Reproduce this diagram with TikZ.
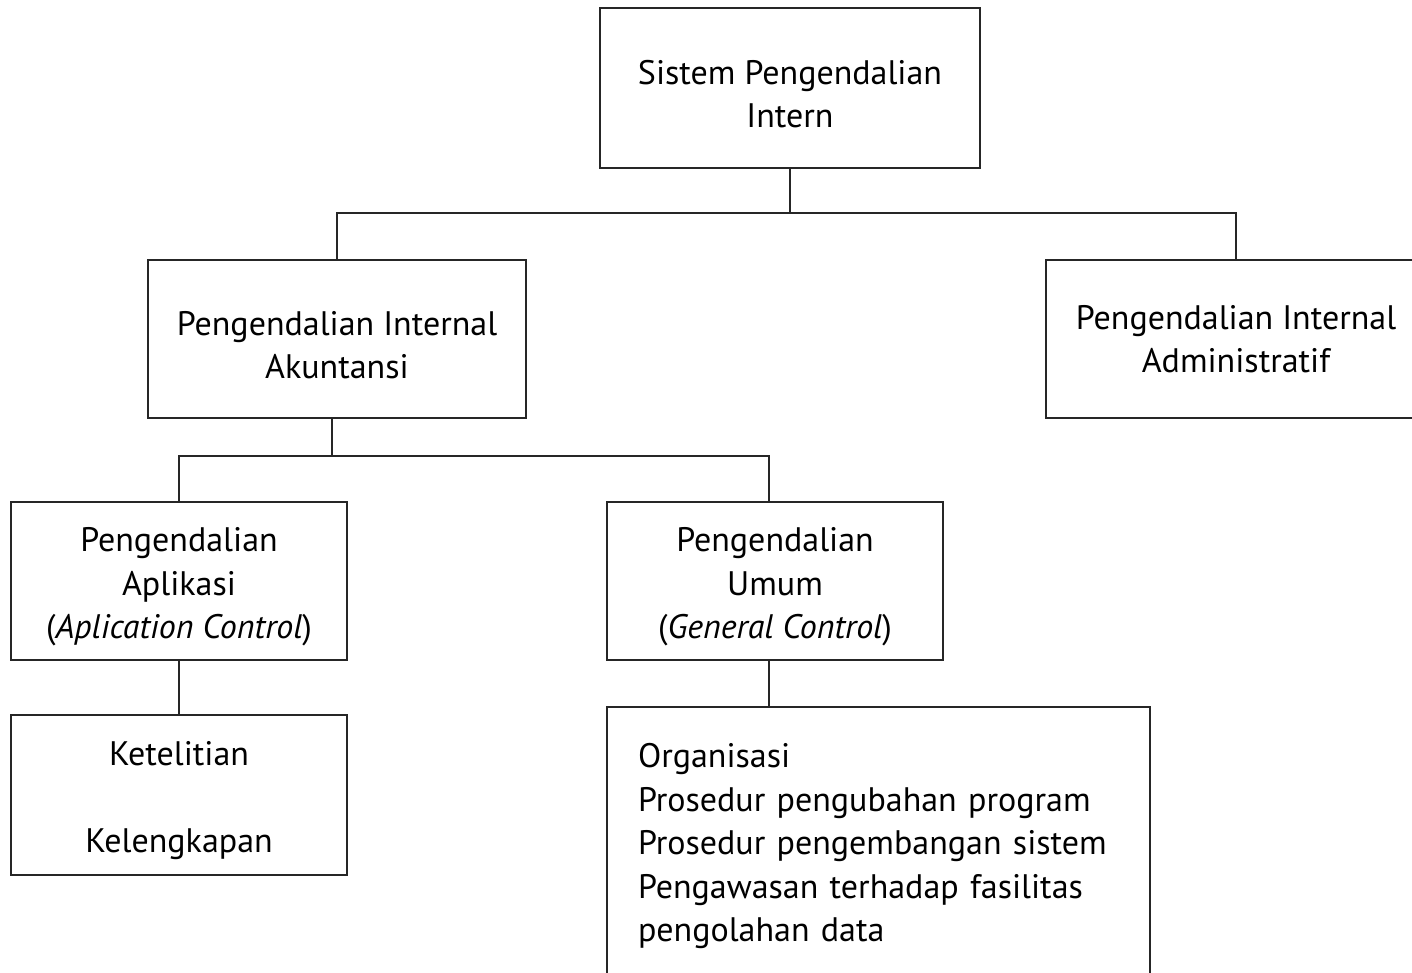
\documentclass[tikz,border=0pt]{standalone}
\usepackage{fontspec}
\setmainfont{PT Sans}
\usetikzlibrary{calc}
\newcommand\lowstrut{\rule{0pt}{36pt}}
\begin{document}
\begin{tikzpicture}[x=1pt,y=-1pt,
  box/.style={draw=black!85, line width=1.6pt, rectangle, outer sep=0pt, inner sep=0pt,
    align=center, font=\fontsize{34}{43.5}\selectfont},
  conn/.style={draw=black!85, line width=1.6pt}]
\useasboundingbox (0,0) rectangle (1412,972);
\clip (0,0) rectangle (1412,972);
\node[box, minimum width=380, minimum height=160] (top) at (790,88) {\lowstrut Sistem Pengendalian\\Intern};
\node[box, minimum width=378, minimum height=158] (pia) at (337,339) {\lowstrut Pengendalian Internal\\Akuntansi};
\node[box, minimum width=380, minimum height=158] (pad) at (1236,339) {Pengendalian Internal\\Administratif};
\node[box, minimum width=336, minimum height=158] (pa) at (179,581) {\lowstrut Pengendalian\\Aplikasi\\(\textit{Aplication Control})};
\node[box, minimum width=336, minimum height=158] (pu) at (775,581) {\lowstrut Pengendalian\\Umum\\(\textit{General Control})};
\node[box, minimum width=336, minimum height=160] (kk) at (179,795) {\lowstrut Ketelitian\\[43.5pt]Kelengkapan};
\node[box, align=left, text width=481, minimum width=543, minimum height=278] (gu) at (878.5,846) {Organisasi\\Prosedur pengubahan program\\Prosedur pengembangan sistem\\Pengawasan terhadap fasilitas\\pengolahan data};
\draw[conn] (top.south) |- ($(pia.north)+(0,-47)$) -- (pia.north);
\draw[conn] (top.south) |- ($(pad.north)+(0,-47)$) -- (pad.north);
\coordinate (piab) at ($(pia.south)+(-5,0)$);
\draw[conn] (piab) -- ($(piab)+(0,38)$) -| (pa.north);
\draw[conn] ($(piab)+(0,38)$) -| ($(pu.north)+(-6,0)$);
\draw[conn] (pa.south) -- (kk.north);
\coordinate (pub) at ($(pu.south)+(-6,0)$);
\draw[conn] (pub) -- (pub |- gu.north);
\end{tikzpicture}
\end{document}
